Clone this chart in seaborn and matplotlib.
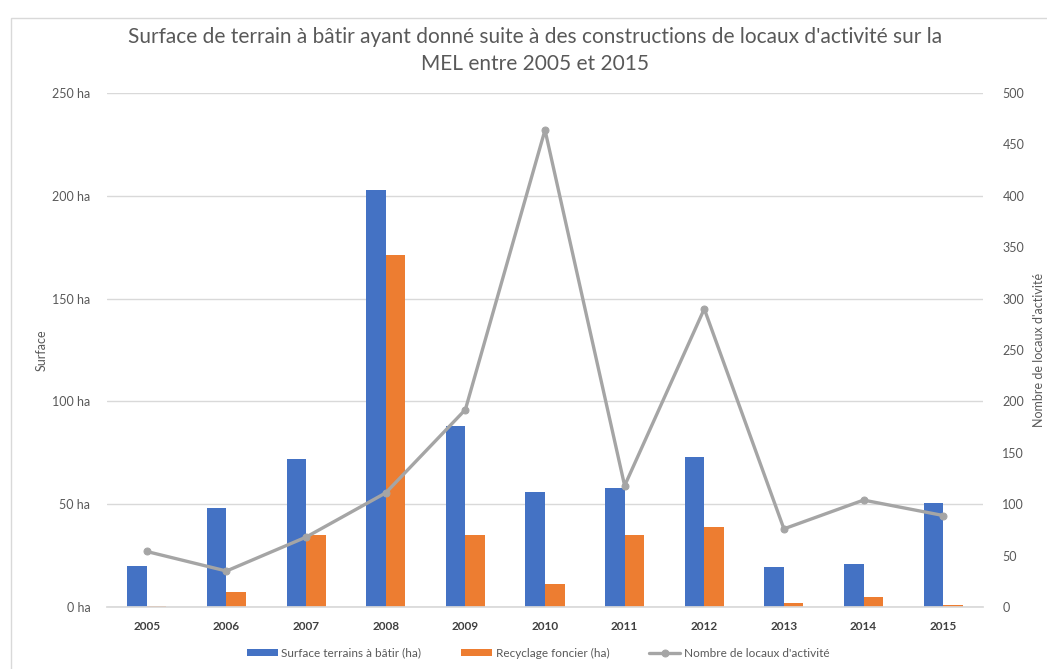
import numpy as np
import pandas as pd
import matplotlib
matplotlib.use("Agg")
import matplotlib.pyplot as plt
from matplotlib.patches import Rectangle
import seaborn as sns

# Data
years = ["2005", "2006", "2007", "2008", "2009", "2010", "2011", "2012", "2013", "2014", "2015"]
surface_ha = [20, 48, 72, 203, 88, 56, 58, 73, 19.5, 21, 50.5]
recyclage_ha = [0.5, 7.5, 35, 171, 35, 11, 35, 39, 1.8, 5, 1.2]
nb_locaux = [54, 35, 68, 111, 192, 464, 118, 290, 76, 104, 89]

serie_surface = "Surface terrains à bâtir (ha)"
serie_recyclage = "Recyclage foncier (ha)"
serie_locaux = "Nombre de locaux d'activité"

left_ticks = [0, 50, 100, 150, 200, 250]
right_ticks = [0, 50, 100, 150, 200, 250, 300, 350, 400, 450, 500]

blue = "#4472C4"
orange = "#ED7D31"
grey = "#A5A5A5"
text_grey = "#595959"

sns.set_theme(style="white")
plt.rcParams["font.family"] = ["Lato", "DejaVu Sans"]

bars = pd.DataFrame({
    "Année": years * 2,
    "Surface": surface_ha + recyclage_ha,
    "Série": [serie_surface] * len(years) + [serie_recyclage] * len(years),
})
line = pd.DataFrame({"pos": np.arange(len(years)), "Nombre": nb_locaux})

fig, ax = plt.subplots(figsize=(10.47, 6.69), dpi=100)
fig.subplots_adjust(left=107 / 1047, right=983 / 1047, top=1 - 93 / 669, bottom=1 - 607 / 669)

sns.barplot(data=bars, x="Année", y="Surface", hue="Série", order=years,
            palette=[blue, orange], width=0.49, gap=0, saturation=1,
            edgecolor="none", ax=ax)
ax.set_ylim(0, 250)
ax.set_yticks(left_ticks)
ax.set_yticklabels([f"{t} ha" for t in left_ticks])
ax.yaxis.grid(True, color="#D9D9D9", linewidth=1)
ax.set_axisbelow(True)
ax.set_xlim(-0.5, len(years) - 0.5)
for s in ax.spines.values():
    s.set_visible(False)
ax.spines["bottom"].set_visible(True)
ax.spines["bottom"].set_color("#D9D9D9")
ax.tick_params(axis="y", length=0, pad=12, labelsize=9, labelcolor=text_grey)
ax.tick_params(axis="x", length=0, pad=10, labelsize=8.5, labelcolor="#404040")
for lab in ax.get_xticklabels():
    lab.set_fontweight("bold")
ax.set_xlabel("")
ax.set_ylabel("Surface", fontsize=9, color=text_grey, labelpad=3)

ax2 = ax.twinx()
sns.lineplot(data=line, x="pos", y="Nombre", color=grey, linewidth=2.4,
             marker="o", markersize=5, markeredgecolor=grey, ax=ax2,
             label=serie_locaux)
ax2.set_ylim(0, 500)
ax2.set_yticks(right_ticks)
ax2.set_xlim(-0.5, len(years) - 0.5)
for s in ax2.spines.values():
    s.set_visible(False)
ax2.tick_params(axis="y", length=0, pad=14, labelsize=9, labelcolor=text_grey)
ax2.set_ylabel(serie_locaux, fontsize=9, color=text_grey, labelpad=6)
ax2.set_xlabel("")

h1, l1 = ax.get_legend_handles_labels()
h2, l2 = ax2.get_legend_handles_labels()
if ax.get_legend():
    ax.get_legend().remove()
if ax2.get_legend():
    ax2.get_legend().remove()
fig.legend(h1 + h2, l1 + l2, loc="center", bbox_to_anchor=(0.514, 1 - 653 / 669),
           ncol=3, frameon=False, fontsize=8.5, labelcolor=text_grey,
           handlelength=2.6, handleheight=0.6, columnspacing=3.4, handletextpad=0.3)

fig.suptitle("Surface de terrain à bâtir ayant donné suite à des constructions de locaux d'activité sur la\nMEL entre 2005 et 2015",
             x=0.511, y=1 - 27 / 669, va="top", fontsize=15, color=text_grey, linespacing=1.45)

fig.patches.append(Rectangle((11 / 1047, -0.01), 1.1, 1 - 18 / 669 + 0.01, transform=fig.transFigure,
                             fill=False, edgecolor="#D9D9D9", linewidth=1))

fig.savefig("out.png", dpi=100)
